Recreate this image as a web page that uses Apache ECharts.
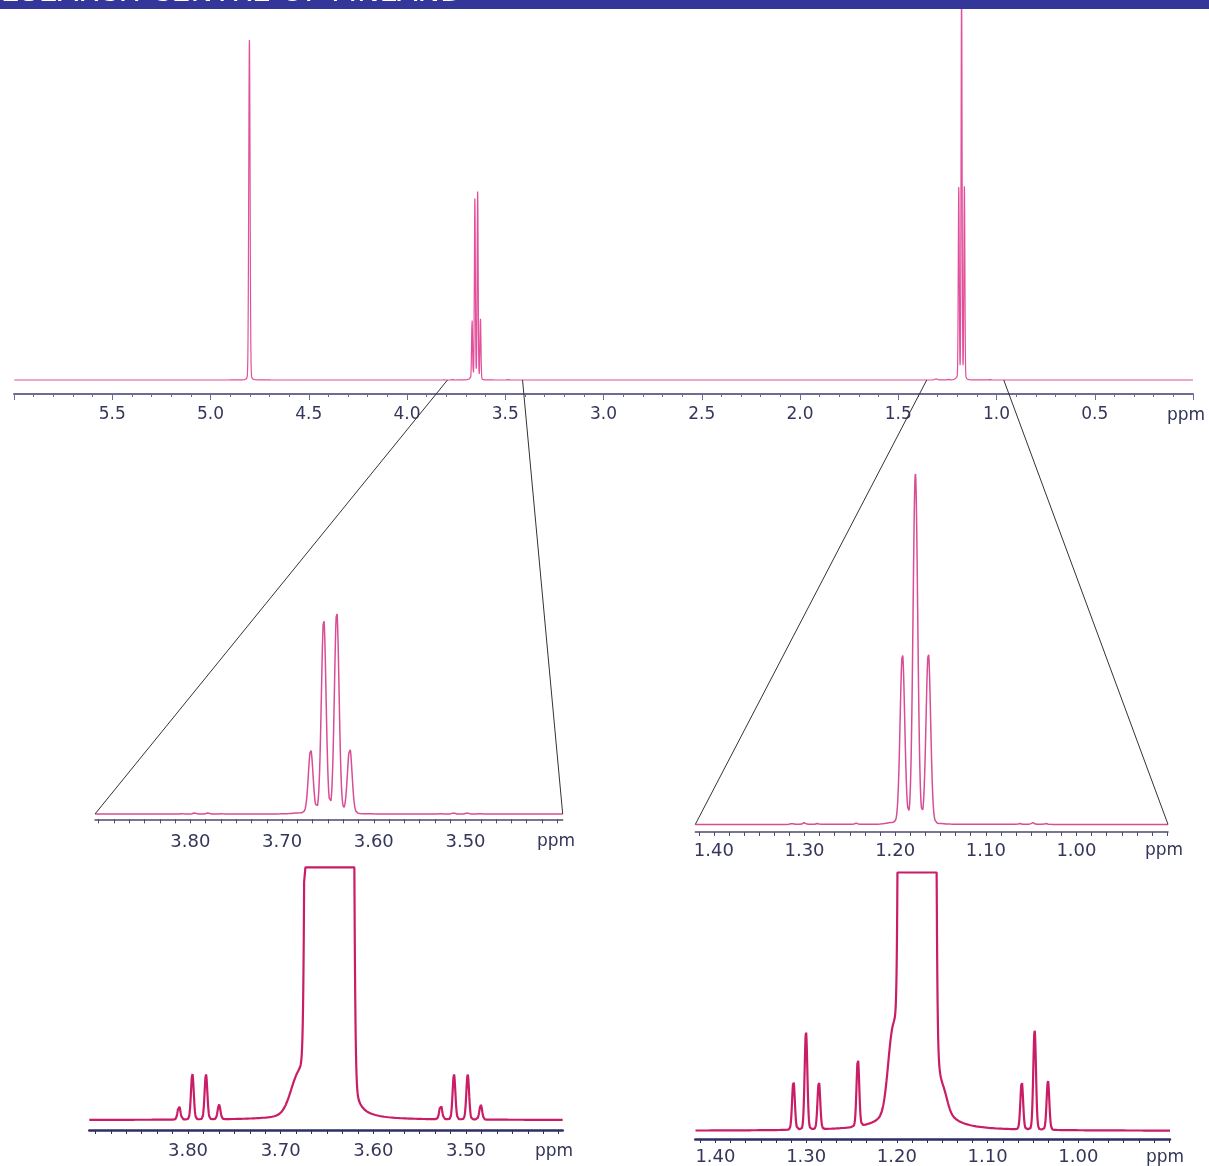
<!DOCTYPE html>
<html><head><meta charset="utf-8">
<script src="https://cdn.jsdelivr.net/npm/echarts@6/dist/echarts.min.js"></script>
<style>html,body{margin:0;padding:0;background:#fff}#c{width:1209px;height:1166px}</style>
</head><body><div id="c"></div>
<script>
// ---------------- data ----------------
// each signal: [ppm, peak height (main-panel units), line width FWHM in ppm]
const waterSignal   = [[4.802, 340, 0.008]];
const ch2Quartet    = [[3.6688, 59, 0.006], [3.6546, 181, 0.006], [3.6404, 188, 0.006], [3.6262, 61, 0.006]];
const ch3Triplet    = [[1.1920, 192, 0.006], [1.1777, 395, 0.006], [1.1634, 193, 0.006]];
const ch2Satellites = [[3.8097, 0.31, 0.0035], [3.7953, 1.02, 0.0035], [3.7806, 1.00, 0.0035], [3.7665, 0.33, 0.0035],
                       [3.5273, 0.33, 0.0035], [3.5130, 1.00, 0.0035], [3.4982, 1.00, 0.0035], [3.4841, 0.33, 0.0035]];
const ch3Satellites = [[1.3140, 0.98, 0.0035], [1.3002, 1.96, 0.0035], [1.2860, 0.96, 0.0035],
                       [1.0624, 0.96, 0.0035], [1.0482, 2.00, 0.0035], [1.0335, 0.98, 0.0035]];
const minorSignals  = [[1.2430, 1.36, 0.0035]];
const broadShoulders = [[3.681, 0.75, 0.02], [1.205, 1.3, 0.012], [1.148, 0.25, 0.01]];
const lorentzFraction = 0.05;

// tick labels (ppm)
const mainTickLabels = [5.5, 5.0, 4.5, 4.0, 3.5, 3.0, 2.5, 2.0, 1.5, 1.0, 0.5];
const ch2TickLabels  = [3.80, 3.70, 3.60, 3.50];
const ch3TickLabels  = [1.40, 1.30, 1.20, 1.10, 1.00];

// expansion windows (ppm) and the main-axis points the guide lines leave from
const mainRange = [0, 6.0];
const ch2Range  = [3.394, 3.904];
const ch3Range  = [0.899, 1.4205];
const ch2RangeV = [3.3957, 3.9065];
const ch3RangeV = [0.899, 1.4222];
const ch2Anchors = [3.794, 3.412];
const ch3Anchors = [1.355, 0.963];

// ---------------- build spectrum from signals ----------------
const allSignals = [].concat(waterSignal, ch2Quartet, ch3Triplet, ch2Satellites, ch3Satellites, minorSignals, broadShoulders);
const LN2x4 = 4 * Math.LN2;
function intensity(x) {
  let s = 0;
  for (const [p, h, w] of allSignals) {
    const d = (x - p) / w;
    if (Math.abs(d) > 80) continue;
    s += h * ((1 - lorentzFraction) * Math.exp(-LN2x4 * d * d) + lorentzFraction / (1 + 4 * d * d));
  }
  return s;
}
function spectrum(range, step, cap) {
  const out = [];
  const n = Math.round((range[1] - range[0]) / step);
  for (let i = 0; i <= n; i++) {
    const x = range[0] + i * step;
    let y = intensity(x);
    if (cap !== undefined) y = Math.min(y, cap);
    out.push([x, y]);
  }
  return out;
}
function ticksEvery(range, anchor, step) {
  const out = [];
  const k0 = Math.ceil((range[0] - anchor) / step - 1e-9), k1 = Math.floor((range[1] - anchor) / step + 1e-9);
  for (let k = k0; k <= k1; k++) out.push(+(anchor + k * step).toFixed(5));
  return out;
}

// ---------------- layout / style ----------------
const FONT = 'DejaVu Sans';
const LABEL_COLOR = '#34365a';
const panels = [
  { grid: {left: 14, right: 16, top: 0, bottom: 772}, y: [-14, 380], range: mainRange },
  { grid: {left: 95, right: 646.3, top: 560, bottom: 346.7}, y: [-4.93, 236.3], range: ch2Range },
  { grid: {left: 695.3, right: 41, top: 440, bottom: 334}, y: [-8.58, 433.86], range: ch3Range },
  { grid: {left: 89.3, right: 646.3, top: 865, bottom: 36}, y: [-0.222, 5.667], cap: 5.6156, range: ch2RangeV },
  { grid: {left: 695.3, right: 39, top: 870, bottom: 26.5}, y: [-0.164, 5.226], cap: 5.176, range: ch3RangeV }
];

const xAxes = [
  { gridIndex: 0, type: 'value', inverse: true, min: mainRange[0], max: mainRange[1], interval: 0.5,
    axisLine: {onZero: false, lineStyle: {color: '#6c6c96', width: 2}},
    axisTick: {length: 6, lineStyle: {color: '#6c6c96', width: 1}},
    minorTick: {show: true, splitNumber: 5, length: 3, lineStyle: {color: '#6c6c96', width: 1}},
    splitLine: {show: false}, minorSplitLine: {show: false},
    axisLabel: {customValues: mainTickLabels, formatter: v => v.toFixed(1), fontFamily: FONT, fontSize: 17, color: LABEL_COLOR, margin: 12}
  }
];
const insetDefs = [
  {grid: 1, range: ch2Range, labels: ch2TickLabels, anchor: 3.8, axisColor: '#4b4b72', width: 1.5, margin: 14},
  {grid: 2, range: ch3Range, labels: ch3TickLabels, anchor: 1.2, axisColor: '#4b4b72', width: 1.5, margin: 10},
  {grid: 3, range: ch2RangeV, labels: ch2TickLabels, anchor: 3.8, axisColor: '#2d2f66', width: 2.5, margin: 12},
  {grid: 4, range: ch3RangeV, labels: ch3TickLabels, anchor: 1.2, axisColor: '#2d2f66', width: 2.5, margin: 9}
];
for (const d of insetDefs) {
  xAxes.push({
    gridIndex: d.grid, type: 'value', inverse: true, min: d.range[0], max: d.range[1],
    axisLine: {onZero: false, lineStyle: {color: d.axisColor, width: d.width}},
    axisTick: {customValues: ticksEvery(d.range, d.anchor, 0.1 / 6), length: 4, lineStyle: {color: d.axisColor, width: 1}},
    splitLine: {show: false},
    axisLabel: {customValues: d.labels, formatter: v => v.toFixed(2), fontFamily: FONT, fontSize: 18, color: LABEL_COLOR, margin: d.margin}
  });
}
const yAxes = panels.map((p, i) => ({gridIndex: i, type: 'value', min: p.y[0], max: p.y[1], show: false}));

const lineStyles = [
  {color: '#e2509c', width: 1.2},
  {color: '#d84d95', width: 1.5},
  {color: '#d84d95', width: 1.5},
  {color: '#c91d66', width: 2.2},
  {color: '#c91d66', width: 2.2}
];
const steps = [0.0005, 0.0002, 0.0002, 0.0002, 0.0002];
const series = panels.map((p, i) => ({
  type: 'line', xAxisIndex: i, yAxisIndex: i, showSymbol: false, symbol: 'none', silent: true,
  lineStyle: lineStyles[i], data: spectrum(p.range, steps[i], p.cap), z: 2
}));

const chart = echarts.init(document.getElementById('c'), null, {renderer: 'canvas'});
const ppmLabel = (x, y, size) => ({type: 'text', x, y, z: 50, style: {text: 'ppm', fontFamily: FONT, fontSize: size, fill: LABEL_COLOR, align: 'center', verticalAlign: 'middle'}});
chart.setOption({
  animation: false,
  backgroundColor: '#ffffff',
  grid: panels.map(p => p.grid),
  xAxis: xAxes,
  yAxis: yAxes,
  series: series
});

// guide lines from the full spectrum to the expansions
const px = (g, x) => chart.convertToPixel({gridIndex: g}, [x, 0]);
const guides = [];
const pairs = [[ch2Anchors, 1, ch2Range], [ch3Anchors, 2, ch3Range]];
for (const [anch, g, rng] of pairs) {
  const a = px(0, anch[0]), b = px(g, rng[1]);
  const c = px(0, anch[1]), d = px(g, rng[0]);
  guides.push({type: 'line', z: 60, shape: {x1: a[0], y1: a[1], x2: b[0], y2: b[1]}, style: {stroke: '#333333', lineWidth: 1}});
  guides.push({type: 'line', z: 60, shape: {x1: c[0], y1: c[1], x2: d[0], y2: d[1]}, style: {stroke: '#333333', lineWidth: 1}});
}
chart.setOption({
  graphic: [
    {type: 'rect', shape: {x: 0, y: 0, width: 1209, height: 9}, style: {fill: '#35369a'}, z: 100},
    {type: 'text', x: 463, y: 8, z: 101, style: {text: 'RESEARCH CENTRE OF FINLAND', fontFamily: FONT, fontSize: 30, fill: '#ffffff', align: 'right', verticalAlign: 'bottom'}},
    ppmLabel(1186, 416, 17),
    ppmLabel(556, 842, 17),
    ppmLabel(1164, 851, 17),
    ppmLabel(554, 1152, 17),
    ppmLabel(1165, 1158, 17)
  ].concat(guides)
});
</script></body></html>
